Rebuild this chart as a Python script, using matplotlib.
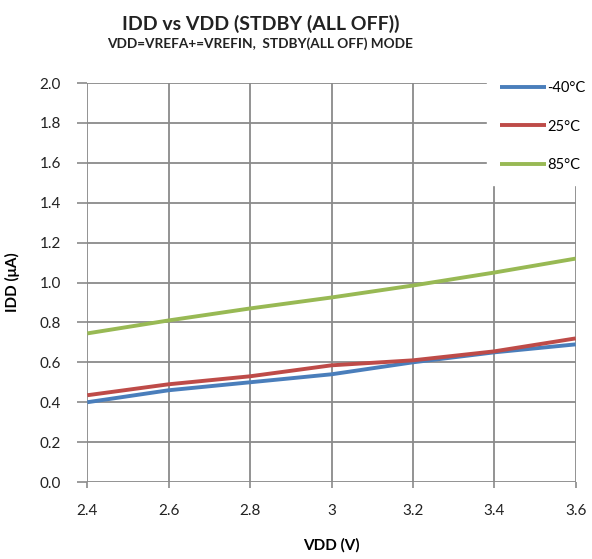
"""
IDD vs VDD in standby (all off) mode, three temperatures
"""

import numpy as np
import matplotlib
matplotlib.use('Agg')
import matplotlib.pyplot as plt

###############################################################################
# Data
vdd = [2.4, 2.6, 2.8, 3.0, 3.2, 3.4, 3.6]
idd_m40 = [0.40, 0.46, 0.50, 0.54, 0.60, 0.65, 0.69]
idd_25 = [0.435, 0.49, 0.53, 0.585, 0.61, 0.655, 0.72]
idd_85 = [0.745, 0.81, 0.87, 0.925, 0.985, 1.05, 1.12]

labels = ['-40°C', '25°C', '85°C']
colors = ['#4a7ebb', '#be4b48', '#98b954']
x_ticks = [2.4, 2.6, 2.8, 3.0, 3.2, 3.4, 3.6]
x_tick_labels = ['2.4', '2.6', '2.8', '3', '3.2', '3.4', '3.6']

###############################################################################
# Plot
plt.rcParams['font.family'] = ['Lato', 'DejaVu Sans']

fig = plt.figure(figsize=(5.92, 5.59), dpi=100)
ax = fig.add_axes([0.1475, 0.1377, 0.825, 0.7138])

for y, lab, col in zip([idd_m40, idd_25, idd_85], labels, colors):
    ax.plot(vdd, y, color=col, lw=2.8, label=lab, solid_capstyle='butt',
            zorder=3)

ax.set_xlim(2.4, 3.6)
ax.set_ylim(0, 2.0)
ax.set_xticks(x_ticks)
ax.set_xticklabels(x_tick_labels)
ax.set_yticks(np.arange(0, 2.01, 0.2))
ax.set_yticklabels(['%.1f' % v for v in np.arange(0, 2.01, 0.2)])
ax.grid(True, color='#8a8a8a', lw=1.3, zorder=1)
for s in ax.spines.values():
    s.set_visible(False)
ax.tick_params(axis='y', length=7, width=1.2, color='#8a8a8a',
               labelsize=11, pad=12, labelcolor='#222222')
ax.tick_params(axis='x', length=4, width=1.2, color='#8a8a8a',
               labelsize=11, pad=12, labelcolor='#222222')

ax.set_xlabel('VDD (V)', fontsize=11, fontweight='bold', labelpad=14)
ax.set_ylabel('IDD (μA)', fontsize=11, fontweight='bold', labelpad=14)

fig.text(0.44, 0.957, 'IDD vs VDD (STDBY (ALL OFF))', ha='center',
         va='center', fontsize=14, fontweight='bold', color='#222222')
fig.text(0.44, 0.921, 'VDD=VREFA+=VREFIN,  STDBY(ALL OFF) MODE',
         ha='center', va='center', fontsize=9.8, fontweight='bold',
         color='#222222')

leg = ax.legend(loc='upper left', bbox_to_anchor=(0.822, 0.879),
                bbox_transform=fig.transFigure, frameon=True, fancybox=False,
                fontsize=10.5, handlelength=3.2, handletextpad=0.05,
                labelspacing=1.7, borderpad=0.9, borderaxespad=0)
leg.get_frame().set_facecolor('white')
leg.get_frame().set_edgecolor('white')
leg.get_frame().set_alpha(1)
leg.set_zorder(5)

plt.savefig('out.png', dpi=100)
plt.close()
